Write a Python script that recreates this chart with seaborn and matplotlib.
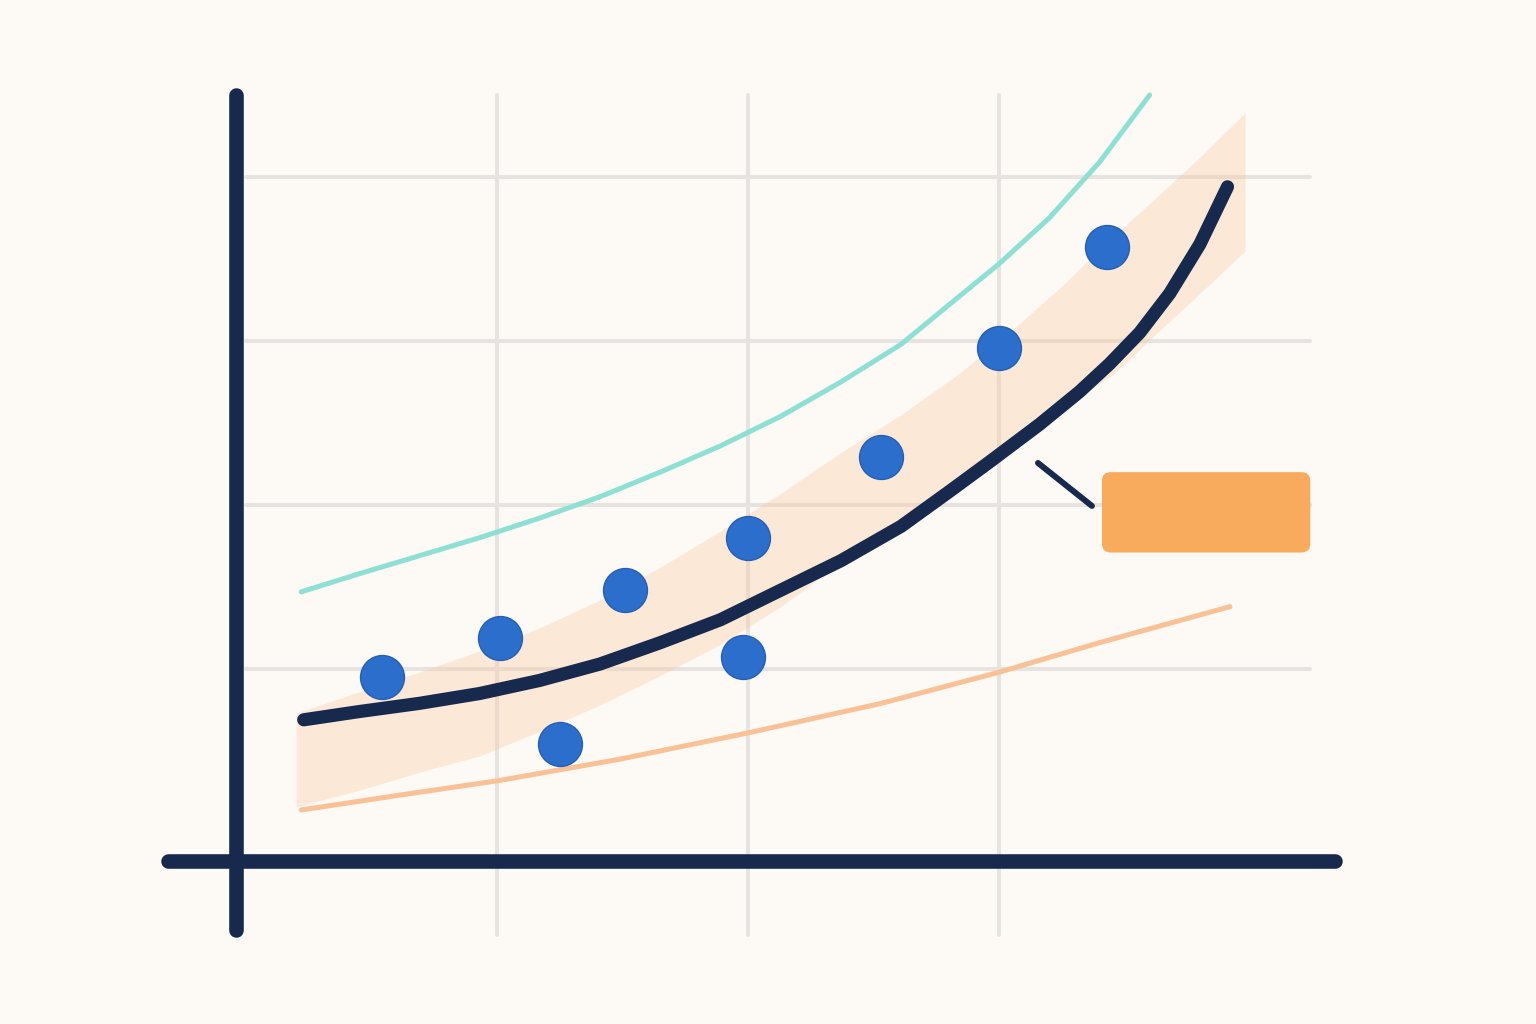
import numpy as np
import pandas as pd
import matplotlib.pyplot as plt
import seaborn as sns
from matplotlib.patches import FancyBboxPatch

# observed points
dot_x = [0.54, 1.01, 1.25, 1.51, 2.00, 1.98, 2.53, 3.00, 3.43]
dot_y = [0.95, 1.19, 0.54, 1.48, 1.80, 1.07, 2.29, 2.96, 3.57]

# fitted curve
fit_x = [0.23, 0.45, 0.69, 0.93, 1.17, 1.41, 1.65, 1.89, 2.13, 2.37, 2.61,
         2.80, 2.96, 3.16, 3.32, 3.44, 3.56, 3.68, 3.80, 3.91]
fit_y = [0.69, 0.74, 0.79, 0.85, 0.93, 1.03, 1.16, 1.30, 1.48, 1.66, 1.87,
         2.08, 2.26, 2.49, 2.69, 2.86, 3.05, 3.29, 3.59, 3.94]

# confidence band
band_x = [0.20, 0.45, 0.69, 0.93, 1.17, 1.41, 1.65, 1.89, 2.13, 2.37, 2.61,
          2.84, 3.07, 3.24, 3.45, 3.63, 3.80, 3.98]
band_hi = [0.73, 0.86, 0.98, 1.11, 1.25, 1.42, 1.62, 1.84, 2.07, 2.32, 2.55,
           2.80, 3.09, 3.32, 3.63, 3.88, 4.12, 4.39]
band_lo = [0.16, 0.26, 0.37, 0.47, 0.62, 0.78, 0.96, 1.15, 1.38, 1.65, 1.90,
           2.16, 2.40, 2.58, 2.79, 3.05, 3.29, 3.55]

# upper bound line
upper_x = [0.22, 0.45, 0.69, 0.93, 1.17, 1.41, 1.65, 1.89, 2.13, 2.37, 2.61,
           2.80, 3.00, 3.20, 3.40, 3.60]
upper_y = [1.47, 1.58, 1.69, 1.80, 1.92, 2.05, 2.20, 2.36, 2.54, 2.75, 2.98,
           3.22, 3.47, 3.75, 4.09, 4.50]

# lower bound line
lower_x = [0.22, 0.61, 1.01, 1.49, 2.00, 2.53, 3.00, 3.40, 3.92]
lower_y = [0.14, 0.23, 0.32, 0.45, 0.61, 0.79, 0.98, 1.16, 1.38]

grid_x = [1, 2, 3]
grid_y = [1, 2, 3, 4]

bg = '#FDF9F5'
navy = '#172A4E'
dot_col = '#2C6ECB'
teal = '#8DE0D3'
peach = '#F9C196'
box_col = '#F9AB5D'
grid_col = '#E6E3E0'

sns.set_theme(style="white")
plt.rcParams['font.family'] = ['DejaVu Sans']

fig = plt.figure(figsize=(15.36, 10.24), dpi=100, facecolor=bg)
ax = fig.add_axes([0, 0, 1, 1])
ax.set_facecolor(bg)
ax.set_xlim(-0.98, 5.139)
ax.set_ylim(-1.165, 5.079)
ax.axis('off')

# grid
for gx in grid_x:
    ax.plot([gx, gx], [-0.62, 4.5], color=grid_col, lw=2.9, zorder=1)
for gy in grid_y:
    ax.plot([0.0, 4.24], [gy, gy], color=grid_col, lw=2.9, zorder=1)

# band
ax.fill_between(band_x, band_lo, band_hi, color='#F8C9A0', alpha=0.35,
                lw=0, zorder=2)

line_kw = dict(sort=False, solid_capstyle='round', solid_joinstyle='round', ax=ax)
sns.lineplot(x=lower_x, y=lower_y, color=peach, linewidth=3.6, zorder=3, **line_kw)
sns.lineplot(x=upper_x, y=upper_y, color=teal, linewidth=3.6, zorder=3, **line_kw)
sns.lineplot(x=fit_x, y=fit_y, color=navy, linewidth=9.5, zorder=4, **line_kw)

pts = pd.DataFrame({'x': dot_x, 'y': dot_y})
sns.scatterplot(data=pts, x='x', y='y', s=1000, color=dot_col,
                edgecolor='#245FB5', linewidth=1, ax=ax, zorder=5)

# axes
ax.plot([-0.04, -0.04], [-0.59, 4.5], color=navy, lw=10.5,
        solid_capstyle='round', zorder=6)
ax.plot([-0.31, 4.34], [-0.17, -0.17], color=navy, lw=10.5,
        solid_capstyle='round', zorder=6)

# callout
ax.plot([3.155, 3.37], [2.256, 1.994], color=navy, lw=4.3,
        solid_capstyle='round', zorder=6)
box = FancyBboxPatch((3.41, 1.71), 0.83, 0.49,
                     boxstyle='round,pad=0,rounding_size=0.035',
                     mutation_aspect=251 / 164, facecolor=box_col,
                     edgecolor='none', zorder=6)
ax.add_patch(box)

ax.set_xlabel('')
ax.set_ylabel('')
fig.savefig('out.png', dpi=100, facecolor=bg)
